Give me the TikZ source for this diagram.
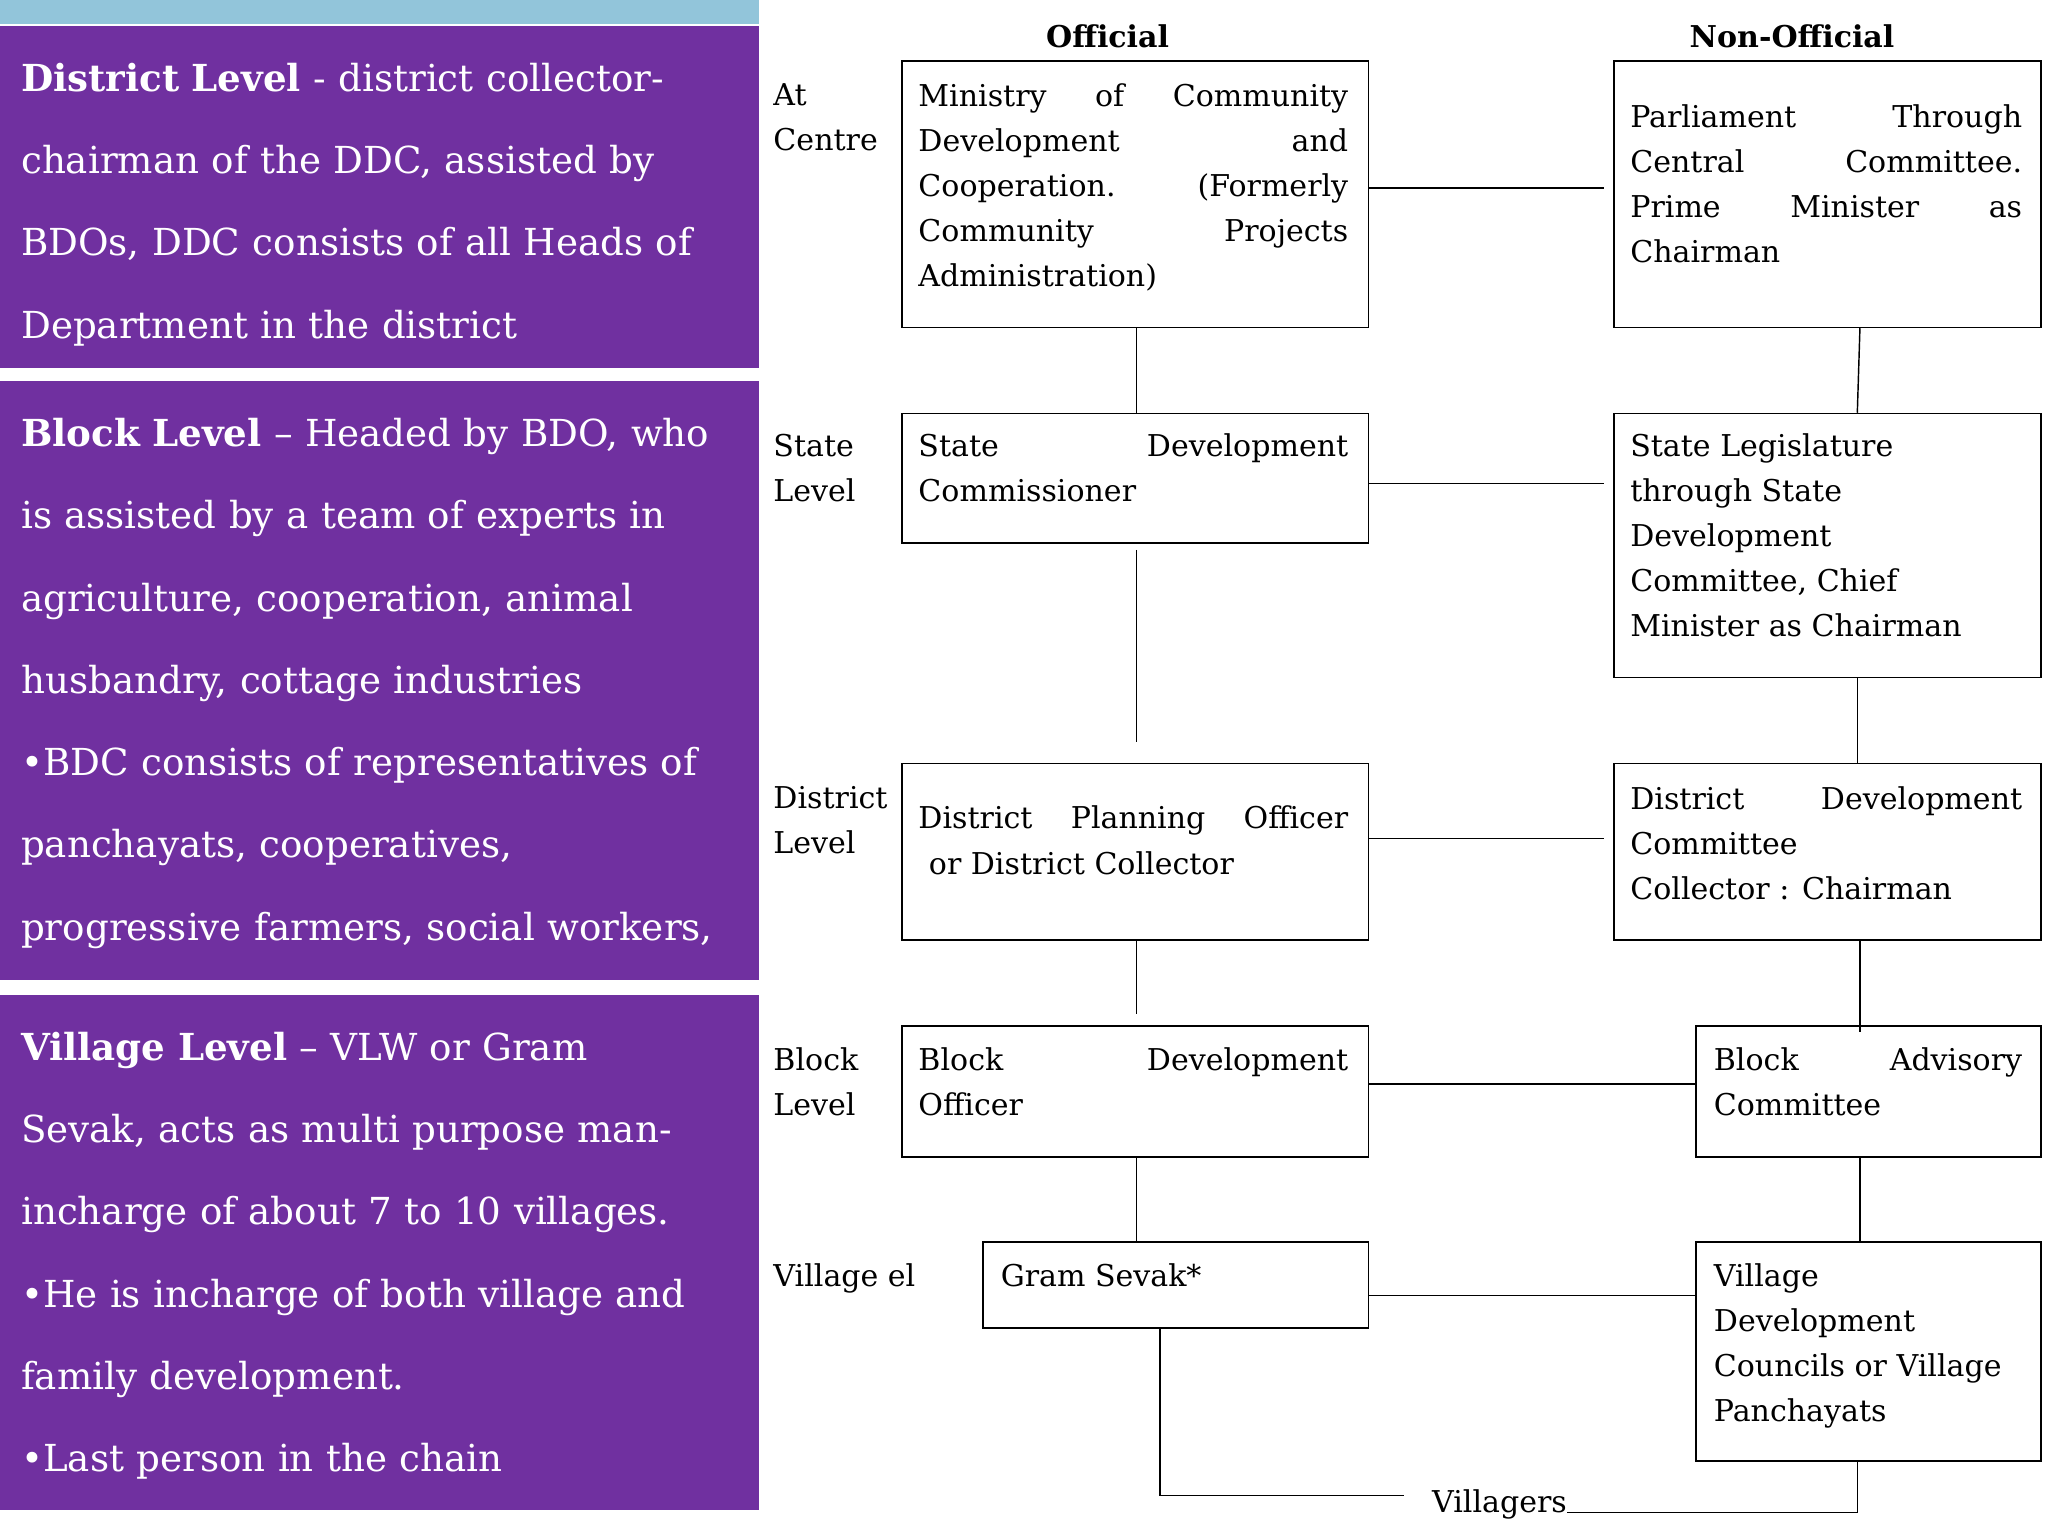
\documentclass[tikz,border=0pt]{standalone}
\usepackage{fontspec}
\setmainfont{DejaVu Serif}
\usetikzlibrary{calc}
\definecolor{purp}{HTML}{7030A0}
\definecolor{lblue}{HTML}{92C5DA}
\newcommand\jl[2]{\makebox[#1pt][l]{#2}\\}
\tikzset{
 panel/.style={fill=purp,draw=none},
 ptext/.style={anchor=north west,text width=560,align=left,text=white,inner sep=0,font=\fontsize{28.5}{63}\selectfont},
 box/.style={draw,line width=1.3,anchor=north west,inner sep=0},
 btext/.style={anchor=north west,align=left,inner sep=0,font=\fontsize{23}{34.5}\selectfont},
 rlab/.style={anchor=north west,align=left,inner sep=0,font=\fontsize{23}{34.5}\selectfont},
 con/.style={line width=1.1},
}
\begin{document}
\begin{tikzpicture}[x=1pt,y=-1pt]
\useasboundingbox[fill=white] (0,0) rectangle (1568,1176);
\fill[lblue] (0,0) rectangle (581,18);
\fill[panel] (0,20) rectangle (581,282);
\fill[panel] (0,292) rectangle (581,750);
\fill[panel] (0,762) rectangle (581,1156);
\node[ptext] (p1) at (16,48) {\textbf{District Level} - district collector-\\chairman of the DDC, assisted by\\BDOs, DDC consists of all Heads of\\Department in the district};
\node[ptext] (p2) at (16,320) {\textbf{Block Level} -- Headed by BDO, who\\is assisted by a team of experts in\\agriculture, cooperation, animal\\husbandry, cottage industries\\•BDC consists of representatives of\\panchayats, cooperatives,\\progressive farmers, social workers,};
\node[ptext] (p3) at (16,790) {\textbf{Village Level} -- VLW or Gram\\Sevak, acts as multi purpose man-\\incharge of about 7 to 10 villages.\\•He is incharge of both village and\\family development.\\•Last person in the chain};

\node[font=\fontsize{23}{30}\selectfont\bfseries] (ho) at (848,28) {Official};
\node[font=\fontsize{23}{30}\selectfont\bfseries] (hn) at (1372,28) {Non-Official};

\node[rlab] (l1) at (592,64) {At\\Centre};
\node[rlab] (l2) at (592,332) {State\\Level};
\node[rlab] (l3) at (592,602) {District\\Level};
\node[rlab] (l4) at (592,802) {Block\\Level};
\node[rlab] (l5) at (592,967) {Village el};

\node[box,minimum width=357,minimum height=204] (A) at (690,46) {};
\node[box,minimum width=327,minimum height=204] (B) at (1235,46) {};
\node[box,minimum width=357,minimum height=99] (C) at (690,316) {};
\node[box,minimum width=327,minimum height=202] (D) at (1235,316) {};
\node[box,minimum width=357,minimum height=135] (E) at (690,584) {};
\node[box,minimum width=327,minimum height=135] (F) at (1235,584) {};
\node[box,minimum width=357,minimum height=100] (G) at (690,785) {};
\node[box,minimum width=264,minimum height=100] (H) at (1298,785) {};
\node[box,minimum width=295,minimum height=66] (I) at (752,950) {};
\node[box,minimum width=264,minimum height=168] (J) at (1298,950) {};

\node[btext] (tA) at (703,64) {\jl{329}{Ministry\hfill of\hfill Community}\jl{329}{Development\hfill and}\jl{329}{Cooperation.\hfill (Formerly}\jl{329}{Community\hfill Projects}Administration)};
\node[btext] (tB) at (1248,80) {\jl{300}{Parliament\hfill Through}\jl{300}{Central\hfill Committee.}\jl{300}{Prime\hfill Minister\hfill as}Chairman};
\node[btext] (tC) at (703,332) {\jl{329}{State\hfill Development}Commissioner};
\node[btext] (tD) at (1248,332) {State Legislature\\through State\\Development\\Committee, Chief\\Minister as Chairman};
\node[btext] (tE) at (703,617) {\jl{329}{District\hfill Planning\hfill Officer}\hspace*{8pt}or District Collector};
\node[btext] (tF) at (1248,602) {\jl{300}{District\hfill Development}Committee\\Collector : Chairman};
\node[btext] (tG) at (703,802) {\jl{329}{Block\hfill Development}Officer};
\node[btext] (tH) at (1312,802) {\jl{236}{Block\hfill Advisory}Committee};
\node[btext] (tI) at (766,967) {Gram Sevak*};
\node[btext] (tJ) at (1312,967) {Village\\Development\\Councils or Village\\Panchayats};

\draw[con] (A.east|-0,144) -- (1228,144);
\draw[con] (C.east|-0,370) -- (1228,370);
\draw[con] (E.east|-0,642) -- (1228,642);
\draw[con] (G.east|-0,830) -- (H.west|-0,830);
\draw[con] (I.east|-0,992) -- (J.west|-0,992);
\draw[con] (870,0|-A.south) -- (870,0|-C.north);
\draw[con] (870,421) -- (870,568);
\draw[con] (870,0|-E.south) -- (870,776);
\draw[con] (870,0|-G.south) -- (870,0|-I.north);
\draw[con] (1424,0|-B.south) -- (1422,0|-D.north);
\draw[con] (1422,0|-D.south) -- (1422,0|-F.north);
\draw[con] (1424,0|-F.south) -- (1424,790);
\draw[con] (1424,0|-H.south) -- (1424,0|-J.north);
\node[font=\fontsize{23}{30}\selectfont,inner sep=0] (V) at (1148,1152) {Villagers};
\draw[con] (888,0|-I.south) -- (888,1145) -- (1075,1145);
\draw[con] (V.east|-0,1158) -- (1422,1158) -- (1422,0|-J.south);
\end{tikzpicture}
\end{document}
